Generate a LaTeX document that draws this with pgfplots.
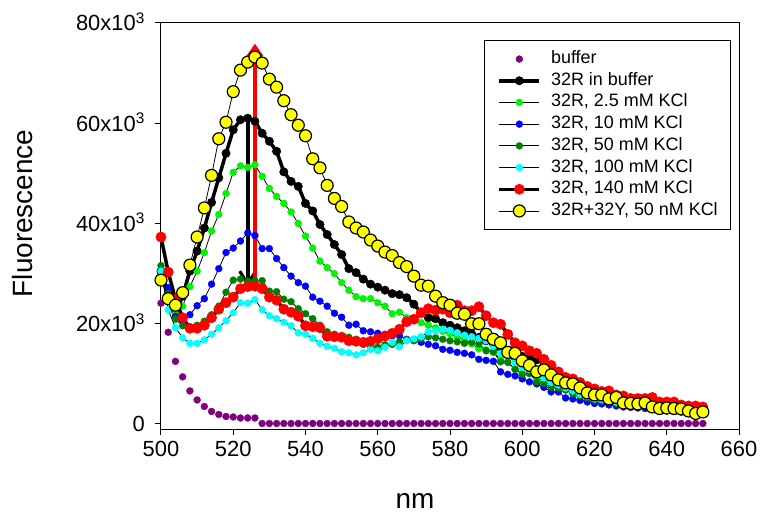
\documentclass[border=0pt]{standalone}
\usepackage{pgfplots}
\pgfplotsset{compat=1.18}
\usepackage{pgfplotstable}
\usepackage{fontspec}
\setmainfont{Liberation Sans}

\definecolor{cpurple}{RGB}{128,0,128}
\definecolor{clime}{RGB}{0,245,0}
\definecolor{cblue}{RGB}{0,0,255}
\definecolor{cdkgreen}{RGB}{0,128,0}
\definecolor{ccyan}{RGB}{0,255,255}
\definecolor{cred}{RGB}{255,0,0}
\definecolor{cyellow}{RGB}{255,255,0}

\pgfplotsset{mylegend/.style={legend image code/.code={\draw[mark repeat=2,mark phase=2,##1] plot coordinates {(0bp,0bp) (20bp,0bp) (40bp,0bp)};}}}

% values in units of 10^3
\pgfplotstableread{
nm  buf  b0   k25  k10  k50  k100 k140 y50
500 24.1 30.5 29.5 30.0 31.6 30.5 37.3 28.7
502 18.3 26.0 25.5 27.2 26.0 22.8 30.3 25.0
504 12.5 22.5 22.0 21.5 20.9 19.2 24.9 23.7
506 9.4  25.5 23.5 20.5 19.6 17.2 21.2 26.2
508 6.6  30.5 27.4 21.8 19.3 16.1 19.1 31.7
510 4.8  34.5 30.5 23.6 19.7 16.1 19.1 37.3
512 3.5  39.1 34.2 25.0 20.5 16.8 19.7 43.1
514 2.5  44.2 38.5 27.9 21.8 17.9 21.2 49.6
516 1.9  49.1 41.8 31.0 23.5 19.2 22.9 56.9
518 1.5  54.0 46.0 34.2 26.3 20.6 24.2 60.2
520 1.4  58.7 50.2 35.1 28.7 22.2 25.3 66.3
522 1.2  60.7 51.5 36.5 28.9 24.2 27.0 70.6
524 1.2  61.0 51.2 38.1 28.5 24.1 27.4 72.2
526 1.2  60.4 51.7 37.6 28.6 24.8 27.5 73.2
528 0.1  58.0 49.4 35.0 28.6 22.8 27.0 72.0
530 0.1  56.4 47.0 35.0 26.5 21.6 25.3 68.8
532 0.1  54.4 45.4 33.0 26.4 21.0 24.7 67.2
534 0.1  50.3 44.0 31.2 24.9 20.3 22.9 64.5
536 0.1  48.4 42.3 29.5 24.4 19.6 22.3 61.7
538 0.1  47.4 40.0 28.2 23.0 18.2 21.5 59.6
540 0.1  44.0 37.5 27.5 22.0 17.9 19.6 57.5
542 0.1  42.5 35.1 25.3 21.0 17.1 19.4 52.9
544 0.1  39.8 32.5 24.5 19.7 16.1 19.2 51.1
546 0.1  37.8 31.2 23.5 18.4 15.5 17.5 47.6
548 0.1  35.8 30.0 22.1 17.9 15.1 17.4 45.0
550 0.1  33.8 28.2 21.3 17.6 14.4 17.3 43.4
552 0.1  31.0 26.7 19.7 17.3 14.2 16.6 40.3
554 0.1  30.2 25.4 19.9 16.9 13.8 16.5 39.1
556 0.1  28.9 25.0 18.6 15.9 14.2 16.3 38.3
558 0.1  27.9 25.0 18.4 15.5 14.9 16.5 36.7
560 0.1  27.3 24.2 18.1 15.3 14.6 17.0 35.5
562 0.1  26.7 23.5 17.9 15.8 15.3 17.5 34.3
564 0.1  26.0 22.0 17.6 15.9 16.3 18.1 33.6
566 0.1  25.8 22.3 17.6 16.4 15.4 18.9 32.2
568 0.1  25.2 21.2 16.9 16.8 16.6 20.4 31.4
570 0.1  23.9 20.8 16.8 16.6 17.0 20.9 29.5
572 0.1  22.2 20.2 16.3 17.0 17.4 22.2 27.7
574 0.1  21.2 19.7 15.9 17.4 18.4 23.0 27.5
576 0.1  21.0 19.2 15.6 17.2 18.6 22.7 25.5
578 0.1  20.2 18.5 14.9 16.9 18.9 22.9 24.2
580 0.1  19.7 18.0 14.7 16.6 18.7 22.2 23.7
582 0.1  19.2 17.4 14.3 16.4 18.2 23.7 22.1
584 0.1  18.6 16.8 14.1 16.1 17.7 22.6 21.9
586 0.1  18.0 16.0 13.8 16.3 17.4 22.6 20.0
588 0.1  17.3 15.0 12.9 16.0 17.1 23.4 20.0
590 0.1  16.6 14.8 12.7 14.6 16.6 21.6 17.9
592 0.1  16.0 14.3 12.5 14.4 15.5 20.2 16.9
594 0.1  15.3 12.9 10.4 12.4 14.1 19.9 16.2
596 0.1  14.6 12.3 9.9  12.3 13.6 17.9 14.3
598 0.1  14.0 11.0 9.6  10.9 12.3 16.2 14.1
600 0.1  13.5 10.1 9.0  9.9  11.3 15.6 12.6
602 0.1  13.1 10.0 8.4  10.1 10.9 14.6 11.7
604 0.1  12.8 9.2  8.0  8.4  9.9  14.1 10.4
606 0.1  12.2 8.5  7.3  8.1  9.2  12.9 10.8
608 0.1  11.0 7.8  6.4  7.3  8.3  11.7 9.8
610 0.1  9.8  7.4  6.4  7.2  7.8  10.4 8.8
612 0.1  9.0  6.8  5.2  6.8  7.2  9.3  8.2
614 0.1  8.6  6.2  5.0  6.0  6.6  9.0  8.0
616 0.1  7.8  5.6  4.7  5.6  5.9  8.3  7.2
618 0.1  7.0  5.1  4.4  5.2  5.5  7.5  6.2
620 0.1  6.5  4.8  4.1  4.8  5.0  7.0  5.8
622 0.1  6.2  4.6  4.0  4.6  4.9  6.5  5.8
624 0.1  5.8  4.4  3.8  4.3  4.6  6.6  5.0
626 0.1  5.5  4.1  3.6  4.1  4.4  5.8  5.3
628 0.1  5.0  3.9  3.4  3.9  4.1  5.6  4.2
630 0.1  4.7  3.7  3.3  3.7  4.0  5.1  4.1
632 0.1  4.6  3.5  3.2  3.6  3.8  5.1  4.0
634 0.1  4.6  3.4  3.1  3.5  3.7  5.1  4.2
636 0.1  4.3  3.2  2.9  3.3  3.5  5.3  3.4
638 0.1  3.8  3.0  2.7  3.1  3.3  4.4  3.1
640 0.1  3.8  2.9  2.6  3.0  3.2  4.4  3.2
642 0.1  3.7  2.8  2.5  2.9  3.1  4.4  3.1
644 0.1  3.4  2.7  2.4  2.8  3.0  3.8  3.0
646 0.1  3.1  2.5  2.3  2.6  2.8  3.6  2.6
648 0.1  2.9  2.4  2.1  2.5  2.6  3.6  2.1
650 0.1  2.9  2.3  2.0  2.4  2.5  3.4  2.4
}\data

\begin{document}
\begin{tikzpicture}
\useasboundingbox (-161bp,-85bp) rectangle (601bp,429bp);
\begin{axis}[
  at={(0,0)}, anchor=south west,
  scale only axis, width=578bp, height=406bp,
  xmin=500, xmax=660, ymin=-1, ymax=80,
  clip=false,
  axis line style={line width=1bp, black},
  tick pos=left, tick align=outside, major tick length=6bp,
  tick style={line width=1bp, black},
  xtick={500,520,...,660},
  xticklabels={500,520,540,560,580,600,620,640,660},
  ytick={0,20,40,60,80},
  yticklabels={0,20x10\textsuperscript{3},40x10\textsuperscript{3},60x10\textsuperscript{3},80x10\textsuperscript{3}},
  ticklabel style={font=\fontsize{22}{26}\selectfont, inner sep=0pt},
  xticklabel style={anchor=base, yshift=-21bp},
  yticklabel style={anchor=base east, xshift=-10bp, yshift=-7.9bp},
  xlabel={nm}, ylabel={Fluorescence},
  label style={font=\fontsize{28}{32}\selectfont},
  xlabel style={at={(axis description cs:0.4394,-0.1946)}, anchor=base},
  ylabel style={at={(axis description cs:-0.2215,0.531)}, anchor=base},
  mylegend,
  legend cell align=left,
  legend style={at={(axis description cs:0.559,0.958)}, anchor=north west,
    draw=black, line width=1bp, font=\fontsize{18}{22}\selectfont,
    inner xsep=13bp, inner ysep=10bp, row sep=4.7bp,
    nodes={inner sep=0pt, text height=13bp, text depth=4bp},
    /tikz/every odd column/.append style={column sep=10bp}},
]
\addplot[only marks, mark=*, mark size=3.5bp, color=cpurple, mark options={draw=cpurple, fill=cpurple, line width=0.3bp}, mylegend]
  table[x=nm, y=buf] {\data};
\addlegendentry{buffer}
\addplot[black, line width=3.5bp, line join=round, mark=*, mark size=4.2bp, mark options={draw=black, fill=black, line width=0.5bp}]
  table[x=nm, y=b0] {\data};
\addlegendentry{32R in buffer}
\addplot[black, line width=0.8bp, mark=*, mark size=3.5bp, mark options={draw=clime, fill=clime, line width=0.3bp}]
  table[x=nm, y=k25] {\data};
\addlegendentry{32R, 2.5 mM KCl}
\addplot[black, line width=0.8bp, mark=*, mark size=3.5bp, mark options={draw=cblue, fill=cblue, line width=0.3bp}]
  table[x=nm, y=k10] {\data};
\addlegendentry{32R, 10 mM KCl}
\addplot[black, line width=0.8bp, mark=*, mark size=3.5bp, mark options={draw=cdkgreen, fill=cdkgreen, line width=0.3bp}]
  table[x=nm, y=k50] {\data};
\addlegendentry{32R, 50 mM KCl}
\addplot[black, line width=0.8bp, mark=*, mark size=3.5bp, mark options={draw=ccyan, fill=ccyan, line width=0.3bp}]
  table[x=nm, y=k100] {\data};
\addlegendentry{32R, 100 mM KCl}
\addplot[black, line width=3.5bp, line join=round, mark=*, mark size=5.2bp, mark options={draw=cred, fill=cred, line width=0.3bp}]
  table[x=nm, y=k140] {\data};
\addlegendentry{32R, 140 mM KCl}
\addplot[black, line width=0.8bp, mark=*, mark size=6bp, mark options={draw=black, fill=cyellow, line width=1.2bp}]
  table[x=nm, y=y50] {\data};
\addlegendentry{32R+32Y, 50 nM KCl}
% arrows (annotations)
\draw[black, line width=4bp] (axis cs:524,60.7) -- (axis cs:524,28.6);
\draw[black, line width=3.2bp, line join=miter, line cap=butt]
  (axis cs:524,27.9) ++(-8bp,13bp) -- (axis cs:524,27.9) -- ++(8bp,13bp);
\draw[cred, line width=4.5bp] (axis cs:526,27.5) -- (axis cs:526,74.6);
\draw[cred, line width=3.2bp, line join=miter, line cap=butt]
  (axis cs:526,75.3) ++(-7bp,-10bp) -- (axis cs:526,75.3) -- ++(7bp,-10bp);
\end{axis}
\end{tikzpicture}
\end{document}
